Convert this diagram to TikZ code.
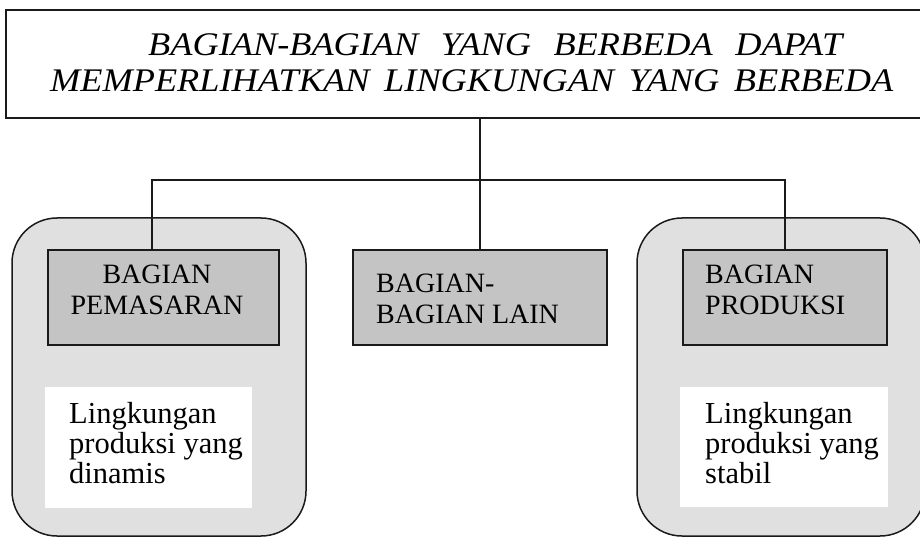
\documentclass[tikz,border=0pt]{standalone}
\usepackage{fontspec}
\setmainfont{Liberation Serif}
\newfontfamily\headfont{Liberation Serif}[FakeStretch=1.1]
\usetikzlibrary{calc}
\definecolor{panelgray}{HTML}{E0E0E0}
\definecolor{unitgray}{HTML}{C4C4C4}
\definecolor{ink}{HTML}{1A1A1A}
\begin{document}
\begin{tikzpicture}[x=1pt,y=-1pt,
  headbox/.style={draw=ink,line width=2pt,fill=white,inner sep=0pt},
  panel/.style={draw=ink,line width=1.5pt,fill=panelgray,rounded corners=45pt,inner sep=0pt},
  unitbox/.style={draw=ink,line width=2.4pt,fill=unitgray,inner sep=0pt,minimum height=95pt},
  notebox/.style={fill=white,inner sep=0pt},
  wire/.style={draw=ink,line width=2pt},
  headtext/.style={inner sep=0pt,anchor=base west,font=\headfont\fontsize{33}{33}\selectfont\itshape},
  unittext/.style={inner sep=0pt,font=\fontsize{28}{31}\selectfont},
  notetext/.style={inner sep=0pt,anchor=base west,align=left,font=\fontsize{30.5}{30}\selectfont}]
\useasboundingbox (0,0) rectangle (920,537);
\clip (0,0) rectangle (920,537);

% heading box, running past the right edge
\node[headbox,minimum width=916pt,minimum height=108pt] (head) at (464,64) {};
\node[headtext] (headA) at (148,56)
  {\makebox[694pt][s]{BAGIAN-BAGIAN\hfill YANG\hfill BERBEDA\hfill DAPAT}};
\node[headtext] (headB) at (50,92)
  {\makebox[843pt][s]{MEMPERLIHATKAN\hfill LINGKUNGAN\hfill YANG\hfill BERBEDA}};

% environment panels
\node[panel,minimum width=294pt,minimum height=318pt] (lpanel) at (159,377) {};
\node[panel,minimum width=288pt,minimum height=318pt] (rpanel) at (781,377) {};

% departments
\node[unitbox,minimum width=231pt] (pem) at (163.5,297.5) {};
\node[unitbox,minimum width=254pt] (mid) at (480,297.5) {};
\node[unitbox,minimum width=204pt] (prod) at (785,297.5) {};

% multi-line labels: the base anchor sits on the last line
\node[unittext,anchor=base,align=center] (pemT) at (157,314) {BAGIAN\\PEMASARAN};
\node[unittext,anchor=base west,align=left] (midT) at (376,323) {BAGIAN-\\BAGIAN LAIN};
\node[unittext,anchor=base west,align=left] (prodT) at (705,314) {BAGIAN\\PRODUKSI};

% environment notes
\node[notebox,minimum width=207pt,minimum height=121pt] (lnote) at (148.5,447.5) {};
\node[notebox,minimum width=208pt,minimum height=120pt] (rnote) at (784,447) {};
\node[notetext] (lnoteT) at (69,483) {Lingkungan\\produksi yang\\dinamis};
\node[notetext] (rnoteT) at (705,483) {Lingkungan\\produksi yang\\stabil};

% connectors
\coordinate (hub) at (480,180);
\coordinate (pemtop) at ($(pem.north west)!0.45!(pem.north east)$);
\draw[wire] (head.south -| hub) -- (hub);
\draw[wire] (hub) -- (mid.north);
\draw[wire] (pemtop) |- (hub) -| (prod.north);
\end{tikzpicture}
\end{document}
